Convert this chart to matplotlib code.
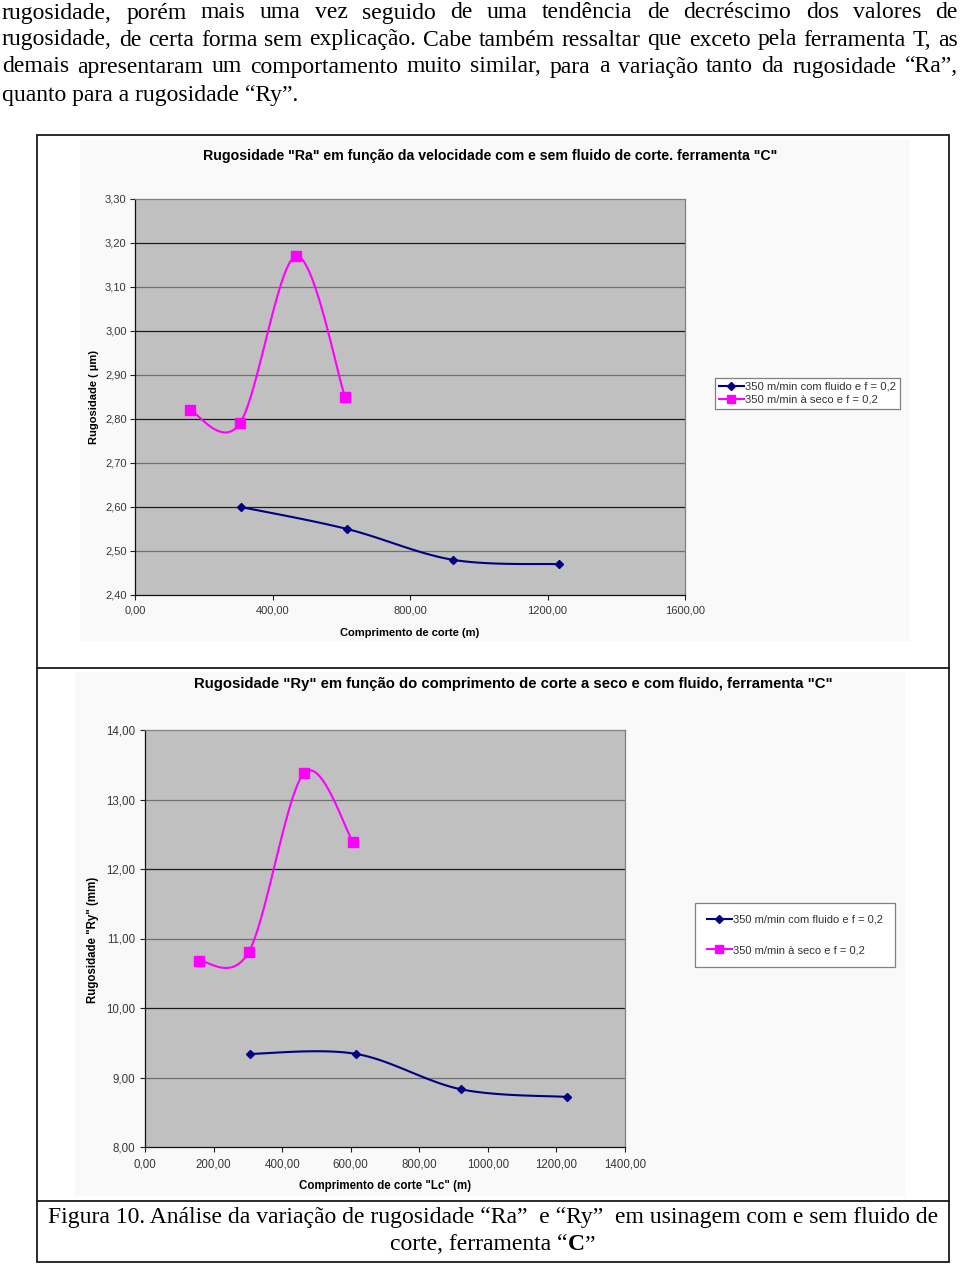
import matplotlib
matplotlib.use("Agg")
import matplotlib.pyplot as plt
from matplotlib.lines import Line2D
from matplotlib.patches import Rectangle
import numpy as np

# ---------------- data ----------------
paragraph_lines = [
    "rugosidade, porém mais uma vez seguido de uma tendência de decréscimo dos valores de",
    "rugosidade, de certa forma sem explicação. Cabe também ressaltar que exceto pela ferramenta T, as",
    "demais apresentaram um comportamento muito similar, para a variação tanto da rugosidade “Ra”,",
    "quanto para a rugosidade “Ry”.",
]
caption_line1 = "Figura 10. Análise da variação de rugosidade “Ra”  e “Ry”  em usinagem com e sem fluido de"
caption_line2 = ["corte, ferramenta “", "C", "”"]

title_ra = 'Rugosidade "Ra" em função da velocidade com e sem fluido de corte. ferramenta "C"'
title_ry = 'Rugosidade "Ry" em função do comprimento de corte a seco e com fluido, ferramenta "C"'
ylabel_ra = "Rugosidade ( µm)"
ylabel_ry = 'Rugosidade "Ry" (mm)'
xlabel_ra = "Comprimento de corte (m)"
xlabel_ry = 'Comprimento de corte "Lc" (m)'
legend_labels = ["350 m/min com fluido e f = 0,2", "350 m/min à seco e f = 0,2"]

ra_x_fluid = [308, 617, 925, 1233]
ra_fluid = [2.60, 2.55, 2.48, 2.47]
ra_x_dry = [160, 305, 468, 611]
ra_dry = [2.82, 2.79, 3.17, 2.85]

ry_x_fluid = [306, 615, 922, 1231]
ry_fluid = [9.34, 9.34, 8.83, 8.72]
ry_x_dry = [157, 303, 464, 607]
ry_dry = [10.68, 10.81, 13.38, 12.39]

ra_xticks = [0, 400, 800, 1200, 1600]
ra_yticks = [2.40, 2.50, 2.60, 2.70, 2.80, 2.90, 3.00, 3.10, 3.20, 3.30]
ry_xticks = [0, 200, 400, 600, 800, 1000, 1200, 1400]
ry_yticks = [8, 9, 10, 11, 12, 13, 14]

BLUE = "#000080"
MAG = "#ff00ff"

W, H = 960, 1265
fig = plt.figure(figsize=(W / 100, H / 100), dpi=100)
fig.patch.set_facecolor("white")
renderer = fig.canvas.get_renderer()


def fx(x):
    return x / W


def fy(y):
    return 1 - y / H


def rect(x0, y0, x1, y1):
    return [fx(x0), fy(y1), (x1 - x0) / W, (y1 - y0) / H]


def fmt(v, dec=2):
    return f"{v:.{dec}f}".replace(".", ",")


def smooth(x, y, n=40):
    pts = np.column_stack([x, y]).astype(float)
    m = len(pts)
    out = []
    t = np.linspace(0, 1, n)[:, None]
    for i in range(m - 1):
        p0 = pts[max(i - 1, 0)]
        p1 = pts[i]
        p2 = pts[i + 1]
        p3 = pts[min(i + 2, m - 1)]
        c1 = p1 + (p2 - p0) / 6
        c2 = p2 - (p3 - p1) / 6
        seg = ((1 - t) ** 3) * p1 + 3 * ((1 - t) ** 2) * t * c1 + 3 * (1 - t) * t ** 2 * c2 + t ** 3 * p2
        out.append(seg if i == 0 else seg[1:])
    out = np.vstack(out)
    return out[:, 0], out[:, 1]


SERIF = ["Liberation Serif", "DejaVu Serif"]
SANS = ["Liberation Sans", "DejaVu Sans"]

# ---------------- paragraph (justified) ----------------
para_fs = 17.0
probe = [fig.text(0, 0, l, fontsize=para_fs, family=SERIF) for l in paragraph_lines[:3]]
wmax = max(p.get_window_extent(renderer).width for p in probe)
for p in probe:
    p.remove()
if wmax > 944:
    para_fs *= 944 / wmax

line_y = [13, 40, 67, 95]
left, right = 2, 958
for i, line in enumerate(paragraph_lines):
    y = fy(line_y[i])
    if i < 3:
        words = line.split(" ")
        objs = [fig.text(0, y, w, fontsize=para_fs, family=SERIF, va="center", ha="left") for w in words]
        widths = [o.get_window_extent(renderer).width for o in objs]
        gap = (right - left - sum(widths)) / (len(words) - 1)
        x = left
        for o, w in zip(objs, widths):
            o.set_x(fx(x))
            x += w + gap
    else:
        fig.text(fx(left), y, line, fontsize=para_fs, family=SERIF, va="center", ha="left")

# ---------------- frame ----------------
frame_color = "#1a1a1a"
fig.add_artist(Rectangle((fx(37), fy(1262)), (949 - 37) / W, (1262 - 135) / H,
                         transform=fig.transFigure, fill=False, edgecolor=frame_color, linewidth=1.3))
for yy in [668, 1201]:
    fig.add_artist(Line2D([fx(37), fx(949)], [fy(yy), fy(yy)], transform=fig.transFigure,
                          color=frame_color, linewidth=1.3))

# chart area backgrounds
fig.add_artist(Rectangle((fx(80), fy(641)), (910 - 80) / W, (641 - 140) / H,
                         transform=fig.transFigure, facecolor="#f9f9f9", edgecolor="none", zorder=-5))
fig.add_artist(Rectangle((fx(75), fy(1196)), (905 - 75) / W, (1196 - 672) / H,
                         transform=fig.transFigure, facecolor="#f9f9f9", edgecolor="none", zorder=-5))


def setup_axes(ax, xticks, yticks, tick_fs, xpad, ypad, dark_first):
    ax.set_facecolor("#c0c0c0")
    ax.set_xlim(xticks[0], xticks[-1])
    ax.set_ylim(yticks[0], yticks[-1])
    ax.set_xticks(xticks)
    ax.set_yticks(yticks)
    ax.set_xticklabels([fmt(v) for v in xticks], family=SANS, fontsize=tick_fs, color="#383838")
    ax.set_yticklabels([fmt(v) for v in yticks], family=SANS, fontsize=tick_fs, color="#383838")
    ax.tick_params(axis="x", direction="out", length=3.5, width=0.8, pad=xpad, color="#222222")
    ax.tick_params(axis="y", direction="out", length=3.5, width=0.8, pad=ypad, color="#222222")
    for s in ["top", "right"]:
        ax.spines[s].set_color("#808080")
        ax.spines[s].set_linewidth(0.9)
    for s in ["left", "bottom"]:
        ax.spines[s].set_color("#111111")
        ax.spines[s].set_linewidth(0.9)
    for i, v in enumerate(yticks[1:-1]):
        dark = (i % 2 == 0) if dark_first else (i % 2 == 1)
        ax.axhline(v, color="#1c1c1c" if dark else "#707070", linewidth=0.9, zorder=1)


# ---------------- chart 1: Ra ----------------
ax1 = fig.add_axes(rect(135, 199, 685, 595))
setup_axes(ax1, ra_xticks, ra_yticks, 8.0, 4.3, 2.5, False)
xs, ys = smooth(ra_x_fluid, ra_fluid)
ax1.plot(xs, ys, color=BLUE, linewidth=1.5, zorder=3)
ax1.plot(ra_x_fluid, ra_fluid, linestyle="none", marker="D", markersize=4.5, color=BLUE, zorder=4)
xs, ys = smooth(ra_x_dry, ra_dry)
ax1.plot(xs, ys, color=MAG, linewidth=1.5, zorder=3)
ax1.plot(ra_x_dry, ra_dry, linestyle="none", marker="s", markersize=6.5, color=MAG, zorder=4)

fig.text(fx(490), fy(156), title_ra, family=SANS, fontsize=10.2, fontweight="bold",
         ha="center", va="center")
fig.text(fx(94), fy(397), ylabel_ra, family=SANS, fontsize=8, fontweight="bold",
         ha="center", va="center", rotation=90)
fig.text(fx(410), fy(633), xlabel_ra, family=SANS, fontsize=8, fontweight="bold",
         ha="center", va="center")

h_fluid = Line2D([], [], color=BLUE, marker="D", markersize=4, linewidth=1.5)
h_dry = Line2D([], [], color=MAG, marker="s", markersize=5.5, linewidth=1.5)
leg1 = fig.legend([h_fluid, h_dry], legend_labels, loc="upper left",
                  bbox_to_anchor=(fx(715), fy(378)), bbox_transform=fig.transFigure,
                  frameon=True, fancybox=False, edgecolor="#808080", framealpha=1,
                  prop={"family": SANS, "size": 8.1}, handlelength=2.2, handletextpad=0.1,
                  borderpad=0.35, labelspacing=0.25, borderaxespad=0)
leg1.get_frame().set_linewidth(0.9)
for t in leg1.get_texts():
    t.set_color("#333333")

# ---------------- chart 2: Ry ----------------
ax2 = fig.add_axes(rect(145, 730, 625, 1147))
setup_axes(ax2, ry_xticks, ry_yticks, 8.3, 5, 3.5, False)
xs, ys = smooth(ry_x_fluid, ry_fluid)
ax2.plot(xs, ys, color=BLUE, linewidth=1.5, zorder=3)
ax2.plot(ry_x_fluid, ry_fluid, linestyle="none", marker="D", markersize=4.5, color=BLUE, zorder=4)
xs, ys = smooth(ry_x_dry, ry_dry)
ax2.plot(xs, ys, color=MAG, linewidth=1.5, zorder=3)
ax2.plot(ry_x_dry, ry_dry, linestyle="none", marker="s", markersize=6.5, color=MAG, zorder=4)

fig.text(fx(513), fy(684), title_ry, family=SANS, fontsize=10.7, fontweight="bold",
         ha="center", va="center")
fig.text(fx(93), fy(940), ylabel_ry, family=SANS, fontsize=8.3, fontweight="bold",
         ha="center", va="center", rotation=90)
fig.text(fx(385), fy(1186), xlabel_ry, family=SANS, fontsize=8.3, fontweight="bold",
         ha="center", va="center")

leg2 = fig.legend([h_fluid, h_dry], legend_labels, loc="upper left",
                  bbox_to_anchor=(fx(695), fy(903)), bbox_transform=fig.transFigure,
                  frameon=True, fancybox=False, edgecolor="#808080", framealpha=1,
                  prop={"family": SANS, "size": 8.0}, handlelength=2.3, handletextpad=0.1,
                  borderpad=1.05, labelspacing=1.85, borderaxespad=0)
leg2.get_frame().set_linewidth(0.9)
for t in leg2.get_texts():
    t.set_color("#333333")

# ---------------- caption ----------------
fig.text(fx(493), fy(1217), caption_line1, fontsize=para_fs, family=SERIF, ha="center", va="center")
parts = []
for j, s in enumerate(caption_line2):
    parts.append(fig.text(0, fy(1245), s, fontsize=para_fs, family=SERIF,
                          fontweight="bold" if j == 1 else "normal", ha="left", va="center"))
ws = [p.get_window_extent(renderer).width for p in parts]
x = 493 - sum(ws) / 2
for p, w in zip(parts, ws):
    p.set_x(fx(x))
    x += w

fig.savefig("out.png", dpi=100, facecolor="white")
